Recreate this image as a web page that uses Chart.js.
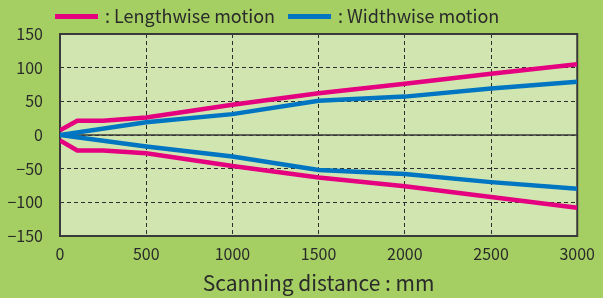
<!DOCTYPE html>
<html>
<head>
<meta charset="utf-8">
<script src="https://cdn.jsdelivr.net/npm/chart.js@4.4.1/dist/chart.umd.min.js"></script>
<style>
  body { margin: 0; background: #a5cf63; }
  #chart { display: block; }
</style>
</head>
<body>
<canvas id="chart" width="603" height="298"></canvas>
<script>
// data
const lengthDist = [0, 100, 250, 500, 1000, 1500, 2000, 2500, 3000];
const lengthUpper = [7, 21, 21, 26, 45, 62, 76, 91, 105];
const lengthLower = [-8, -23, -23, -27, -46, -63, -76, -92, -108];

const widthDist = [0, 500, 1000, 1500, 2000, 2500, 3000];
const widthUpper = [0, 19, 31, 51, 57, 69, 79];
const widthLower = [0, -17, -32, -52, -58, -70, -80];

const seriesNames = [': Lengthwise motion', ': Widthwise motion'];
const seriesColors = ['#e4007f', '#0075c2'];

const yTicks = [-150, -100, -50, 0, 50, 100, 150];
const xTicks = [0, 500, 1000, 1500, 2000, 2500, 3000];
const xTitle = 'Scanning distance : mm';

const FONT = '"Noto Sans CJK JP", "Noto Sans", sans-serif';
const INK = '#2a2a2a';

const pts = (xs, ys) => xs.map((x, i) => ({ x: x, y: ys[i] }));

const lineSet = (label, data, color) => ({
  label: label,
  data: data,
  borderColor: color,
  backgroundColor: color,
  borderWidth: 4.5,
  pointRadius: 0,
  tension: 0,
  fill: false
});

// plot frame, zero line and legend
const framePlugin = {
  id: 'frame',
  beforeDraw(chart) {
    const { ctx, chartArea: a } = chart;
    ctx.save();
    ctx.fillStyle = '#d0e5b0';
    ctx.fillRect(a.left, a.top, a.right - a.left, a.bottom - a.top);
    ctx.restore();
  },
  beforeDatasetsDraw(chart) {
    const { ctx, chartArea: a, scales } = chart;
    ctx.save();
    ctx.strokeStyle = '#3a3a3a';
    ctx.lineWidth = 1.5;
    const y0 = scales.y.getPixelForValue(0);
    ctx.beginPath();
    ctx.moveTo(a.left, y0);
    ctx.lineTo(a.right, y0);
    ctx.stroke();
    ctx.lineWidth = 2;
    ctx.strokeRect(a.left, a.top, a.right - a.left, a.bottom - a.top);
    ctx.restore();
  },
  afterDraw(chart) {
    const ctx = chart.ctx;
    const starts = [55, 288];
    ctx.save();
    ctx.font = '18px ' + FONT;
    ctx.textBaseline = 'middle';
    seriesNames.forEach((name, i) => {
      const x = starts[i];
      ctx.strokeStyle = seriesColors[i];
      ctx.lineWidth = 5;
      ctx.beginPath();
      ctx.moveTo(x, 16.5);
      ctx.lineTo(x + 43, 16.5);
      ctx.stroke();
      ctx.fillStyle = INK;
      ctx.fillText(name, x + 50, 16);
    });
    ctx.restore();
  }
};

new Chart(document.getElementById('chart'), {
  type: 'line',
  data: {
    datasets: [
      lineSet(seriesNames[1], pts(widthDist, widthUpper), seriesColors[1]),
      lineSet(seriesNames[1], pts(widthDist, widthLower), seriesColors[1]),
      lineSet(seriesNames[0], pts(lengthDist, lengthUpper), seriesColors[0]),
      lineSet(seriesNames[0], pts(lengthDist, lengthLower), seriesColors[0])
    ]
  },
  options: {
    responsive: false,
    animation: false,
    devicePixelRatio: 1,
    layout: { padding: { top: 34, right: 22, left: 0, bottom: 0 } },
    plugins: {
      legend: { display: false },
      tooltip: { enabled: false }
    },
    scales: {
      x: {
        type: 'linear',
        min: 0,
        max: 3000,
        afterBuildTicks: s => { s.ticks = xTicks.map(v => ({ value: v })); },
        afterFit: s => { s.height = 62; },
        ticks: {
          color: INK,
          font: { family: FONT, size: 16 },
          padding: 8,
          maxRotation: 0,
          callback: v => String(v)
        },
        grid: { color: '#2e2e2e', lineWidth: 1, drawTicks: false },
        border: { display: false, dash: [4, 3] },
        title: {
          display: true,
          text: xTitle,
          color: INK,
          font: { family: FONT, size: 21 },
          padding: { top: 0, bottom: 2 }
        }
      },
      y: {
        min: -150,
        max: 150,
        afterBuildTicks: s => { s.ticks = yTicks.map(v => ({ value: v })); },
        afterFit: s => { s.width = 60; },
        ticks: {
          color: INK,
          font: { family: FONT, size: 16 },
          padding: 17,
          callback: v => (v < 0 ? '\u2212' + Math.abs(v) : String(v))
        },
        grid: { color: '#2e2e2e', lineWidth: 1, drawTicks: false },
        border: { display: false, dash: [4, 3] }
      }
    }
  },
  plugins: [framePlugin]
});
</script>
</body>
</html>
